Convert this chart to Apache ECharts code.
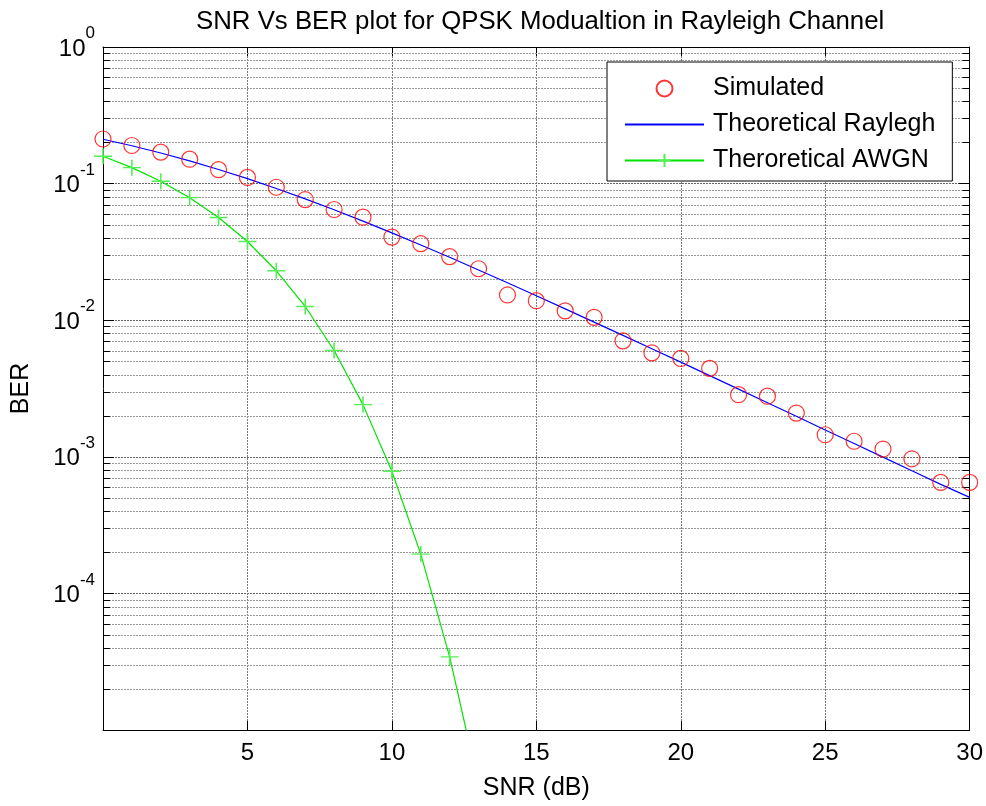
<!DOCTYPE html>
<html>
<head>
<meta charset="utf-8">
<script src="https://cdn.jsdelivr.net/npm/echarts@6/dist/echarts.min.js"></script>
<style>
html,body{margin:0;padding:0;background:#fff;}
#chart{width:986px;height:806px;}
</style>
</head>
<body>
<div id="chart"></div>
<script>
// ---- data ----
var snrDb = [0,1,2,3,4,5,6,7,8,9,10,11,12,13,14,15,16,17,18,19,20,21,22,23,24,25,26,27,28,29,30];
var simulatedBer = [0.212,0.190,0.170,0.151,0.1265,0.111,0.094,0.0764,0.0646,0.0568,0.0406,0.0363,0.0292,0.0238,0.0153,0.0139,0.0117,0.0105,0.00706,0.00577,0.00525,0.00444,0.00285,0.00278,0.00209,0.00145,0.00130,0.00114,0.000967,0.000649,0.000649];
var rayleighBer = [0.2113,0.1892,0.1675,0.1467,0.1269,0.1087,0.0921,0.0773,0.0643,0.0531,0.0436,0.0355,0.0289,0.0233,0.0188,0.0151,0.0121,0.00968,0.00774,0.00618,0.00493,0.00393,0.00313,0.00249,0.00198,0.00157,0.00125,0.000994,0.00079,0.000628,0.000505];
var awgnSnrDb = [0,1,2,3,4,5,6,7,8,9,10,11,12,13];
var awgnBer = [0.1587,0.1309,0.1040,0.0789,0.0565,0.0377,0.0230,0.0126,0.0060,0.00241,0.000783,0.000194,0.0000343,0.00000397];
var seriesNames = ['Simulated','Theoretical Raylegh','Theroretical AWGN'];
var xTicks = [0,5,10,15,20,25,30];
var yDecades = [-5,-4,-3,-2,-1,0];
var minorMultipliers = [2,3,4,5,6,7,8,9];

var FONT = '"Liberation Sans", Arial, Helvetica, sans-serif';

function pairs(xs, ys){ return xs.map(function(x,i){ return [x, ys[i]]; }); }

var minorVals = [];
yDecades.slice(0,-1).forEach(function(d){
  minorMultipliers.forEach(function(m){ minorVals.push([xTicks[0], m*Math.pow(10,d)]); });
});

var awgnData = pairs(awgnSnrDb, awgnBer).map(function(p, i){
  return i === awgnSnrDb.length-1 ? {value:p, symbol:'none'} : p;
});

var chart = echarts.init(document.getElementById('chart'), null, {renderer:'canvas'});
var xMin = xTicks[0], xMax = xTicks[xTicks.length-1];
var yMin = Math.pow(10, yDecades[0]), yMax = Math.pow(10, yDecades[yDecades.length-1]);

function px(v){ return Math.round(v) + 0.5; }

chart.setOption({
  animation:false,
  backgroundColor:'#fff',
  title:{
    text:'SNR Vs BER plot for QPSK Modualtion in Rayleigh Channel',
    left:191, top:4,
    textStyle:{fontFamily:FONT, fontSize:25.8, fontWeight:'normal', color:'#000'}
  },
  grid:{left:103, top:47, right:14, bottom:74, containLabel:false},
  legend:{
    data:[
      {name:seriesNames[0]},
      {name:seriesNames[1], itemStyle:{opacity:0}},
      {name:seriesNames[2]}
    ],
    orient:'vertical',
    left:607, top:62,
    backgroundColor:'#fff',
    borderColor:'#000', borderWidth:1,
    padding:[14,17,8,17],
    itemWidth:79, itemHeight:16, itemGap:11,
    textStyle:{fontFamily:FONT, fontSize:25, color:'#000', lineHeight:25, padding:[0,0,0,4]}
  },
  xAxis:[{
    type:'value', min:xMin, max:xMax, interval:5,
    name:'SNR (dB)', nameLocation:'middle', nameGap:46,
    nameTextStyle:{fontFamily:FONT, fontSize:25, color:'#000'},
    axisLine:{show:true, onZero:false, lineStyle:{color:'#000', width:1}},
    axisTick:{show:true, inside:true, length:9, lineStyle:{color:'#000'}},
    axisLabel:{fontFamily:FONT, fontSize:24, color:'#000', margin:11,
      formatter:function(v){ return v === xMin ? '' : String(v); }},
    splitLine:{show:true, lineStyle:{color:'#7a7a7a', type:[2,1], width:1}}
  },{
    type:'value', position:'top', min:xMin, max:xMax, interval:5,
    axisLine:{show:true, onZero:false, lineStyle:{color:'#000', width:1}},
    axisTick:{show:true, inside:true, length:9, lineStyle:{color:'#000'}},
    axisLabel:{show:false}, splitLine:{show:false}
  }],
  yAxis:[{
    type:'log', logBase:10, min:yMin, max:yMax,
    name:'BER', nameLocation:'middle', nameGap:69, nameRotate:90,
    nameTextStyle:{fontFamily:FONT, fontSize:25, color:'#000'},
    axisLine:{show:true, onZero:false, lineStyle:{color:'#000', width:1}},
    axisTick:{show:true, inside:true, length:11, lineStyle:{color:'#000'}},
    axisLabel:{
      margin:8,
      padding:[0,0,8,0],
      formatter:function(v){
        var e = Math.round(Math.log10(v));
        if (e <= yDecades[0]) return '';
        return '{h| }{b|10}{s|' + e + '}';
      },
      rich:{
        h:{fontSize:1, lineHeight:36, width:0},
        b:{fontFamily:FONT, fontSize:24, color:'#000', lineHeight:24, verticalAlign:'bottom'},
        s:{fontFamily:FONT, fontSize:17, color:'#000', lineHeight:17, verticalAlign:'top'}
      }
    },
    splitLine:{show:true, lineStyle:{color:'#666', type:[2,1], width:1}}
  },{
    type:'log', logBase:10, min:yMin, max:yMax, position:'right',
    axisLine:{show:true, onZero:false, lineStyle:{color:'#000', width:1}},
    axisTick:{show:true, inside:true, length:11, lineStyle:{color:'#000'}},
    axisLabel:{show:false}, splitLine:{show:false}
  }],
  series:[{
    type:'custom', name:'minor', silent:true, z:1,
    xAxisIndex:0, yAxisIndex:0,
    data:minorVals,
    renderItem:function(params, api){
      var v = api.value(1);
      var a = api.coord([xMin, v]), b = api.coord([xMax, v]);
      var y = px(a[1]);
      return {type:'group', children:[
        {type:'line', shape:{x1:a[0], y1:y, x2:b[0], y2:y}, style:{stroke:'#999', lineWidth:1, lineDash:[2,1]}},
        {type:'line', shape:{x1:a[0], y1:y, x2:a[0]+7, y2:y}, style:{stroke:'#000', lineWidth:1}},
        {type:'line', shape:{x1:b[0]-7, y1:y, x2:b[0], y2:y}, style:{stroke:'#000', lineWidth:1}}
      ]};
    }
  },{
    type:'line', name:seriesNames[1], z:3,
    data:pairs(snrDb, rayleighBer),
    symbol:'circle', showSymbol:false, smooth:false,
    lineStyle:{color:'#0000ff', width:1.2},
    itemStyle:{color:'#0000ff'}
  },{
    type:'line', name:seriesNames[2], z:3,
    data:awgnData,
    symbol:'path://M0,8 L18,8 M9,0 L9,16', symbolSize:[18,16],
    lineStyle:{color:'#00e400', width:1.2},
    itemStyle:{color:'none', borderColor:'#55ee55', borderWidth:1.5}
  },{
    type:'scatter', name:seriesNames[0], z:4,
    data:pairs(snrDb, simulatedBer),
    symbol:'circle', symbolSize:16,
    itemStyle:{color:'rgba(255,255,255,0)', borderColor:'#ff0000', borderWidth:1.2}
  }]
});
</script>
</body>
</html>
